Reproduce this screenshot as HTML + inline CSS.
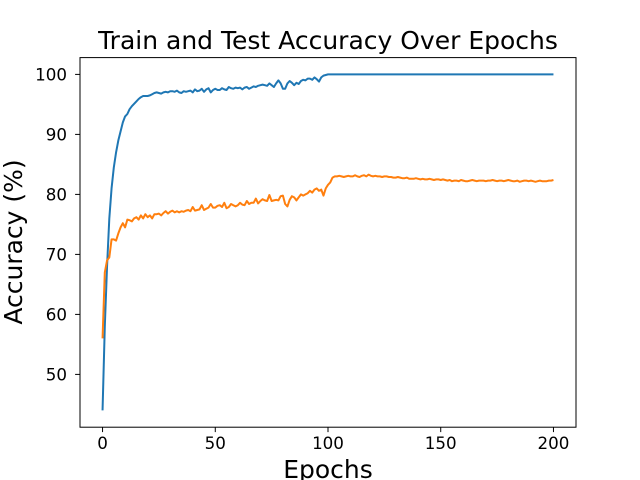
<!DOCTYPE html>
<html><head><meta charset="utf-8"><style>
body{margin:0;background:#fff}
svg{display:block;font-family:"DejaVu Sans","Liberation Sans",sans-serif}
</style></head><body>
<svg id="chart" width="640" height="480">
<rect width="640" height="480" fill="#fff"/>
<text x="328" y="49" font-size="25" text-anchor="middle">Train and Test Accuracy Over Epochs</text>
<g id="xt"></g>
<g id="yt"></g>
<g id="lines"></g>
<rect x="80" y="57.6" width="496" height="369.6" fill="none" stroke="#000" stroke-width="1"/>
<text x="328" y="478" font-size="25" text-anchor="middle">Epochs</text>
<text transform="translate(22,242) rotate(-90)" font-size="25" text-anchor="middle">Accuracy (%)</text>
</svg>
<script>
const xTicks=[0,50,100,150,200];
const yTicks=[50,60,70,80,90,100];
const trainAcc=[44,58,68,76,81,84.5,87,89,90.5,92,
93,93.4,94.2,94.7,95.1,95.5,95.9,96.2,96.4,96.4,
96.4,96.5,96.7,96.9,97.0,96.9,96.8,97.0,97.1,97.0,
97.2,97.2,97.1,97.3,97.0,96.9,97.2,97.1,97.2,97.3,
97.0,97.5,97.2,97.3,97.6,97.1,97.5,97.7,97.0,97.4,
97.6,97.4,97.4,97.7,97.5,97.4,97.9,97.7,97.6,97.8,
97.7,97.8,97.5,97.8,97.9,97.6,97.8,98.0,97.9,98.1,
98.2,98.3,98.2,98.1,98.5,98.2,97.9,98.5,99.0,98.5,
97.6,97.6,98.5,98.9,98.6,98.2,98.6,98.4,98.9,99.1,
99.0,99.3,99.3,99.1,99.5,99.2,98.8,99.5,99.8,99.9,
100,100,100,100,100,100,100,100,100,100,
100,100,100,100,100,100,100,100,100,100,
100,100,100,100,100,100,100,100,100,100,
100,100,100,100,100,100,100,100,100,100,
100,100,100,100,100,100,100,100,100,100,
100,100,100,100,100,100,100,100,100,100,
100,100,100,100,100,100,100,100,100,100,
100,100,100,100,100,100,100,100,100,100,
100,100,100,100,100,100,100,100,100,100,
100,100,100,100,100,100,100,100,100,100,
100];
const testAcc=[56,67,69,69.5,72.5,72.5,72.3,73.5,74.5,75.2,
74.5,75.8,75.7,75.5,76.0,76.2,75.8,76.5,76.0,76.7,
76.2,76.5,76.0,76.7,76.7,76.8,76.5,76.9,77.2,76.8,
77.1,77.3,77.0,77.2,77.0,77.2,77.1,77.3,77.4,77.2,
77.9,77.3,77.4,77.5,78.2,77.4,77.6,77.8,78.4,77.8,
77.8,78.1,78.2,77.9,78.6,77.7,77.9,78.4,78.2,78.0,
78.2,78.6,78.3,78.2,78.9,78.4,78.6,78.6,79.3,78.5,
78.9,79.2,79.0,78.9,79.9,78.9,79.0,79.1,79.0,79.7,
79.8,78.4,78.0,79.1,79.7,79.5,79.0,79.5,80.0,79.8,
80.0,80.2,80.6,80.3,80.8,81.0,80.6,80.8,79.8,81.0,
81.6,82.0,82.8,83.0,83.0,83.1,83.0,82.9,83.0,83.1,
83.0,83.0,83.2,83.0,82.9,83.1,83.2,83.0,83.3,83.1,
83.0,83.1,83.0,83.0,82.9,83.0,83.0,82.9,82.9,82.8,
82.8,82.9,82.8,82.7,82.7,82.8,82.6,82.6,82.6,82.7,
82.6,82.5,82.6,82.5,82.5,82.6,82.5,82.4,82.5,82.5,
82.4,82.5,82.4,82.3,82.4,82.2,82.3,82.3,82.2,82.4,
82.3,82.2,82.2,82.3,82.4,82.3,82.2,82.3,82.3,82.3,
82.2,82.3,82.3,82.4,82.3,82.2,82.3,82.3,82.2,82.3,
82.4,82.3,82.2,82.2,82.3,82.1,82.2,82.3,82.3,82.2,
82.3,82.2,82.1,82.2,82.3,82.2,82.2,82.2,82.3,82.3,
82.4];
const NS='http://www.w3.org/2000/svg';
const L=80,R=576,T=57.6,B=427.2;
const n=trainAcc.length;
const xmin=-(n-1)*0.05,xmax=(n-1)*1.05;
const all=trainAcc.concat(testAcc);
const dmin=Math.min(...all),dmax=Math.max(...all),pad=(dmax-dmin)*0.05;
const ymin=dmin-pad,ymax=dmax+pad;
const sx=v=>L+(v-xmin)/(xmax-xmin)*(R-L);
const sy=v=>B-(v-ymin)/(ymax-ymin)*(B-T);
function mk(tag,attrs,parent){const e=document.createElementNS(NS,tag);for(const k in attrs)e.setAttribute(k,attrs[k]);parent.appendChild(e);return e;}
const xt=document.getElementById('xt'),yt=document.getElementById('yt'),lg=document.getElementById('lines');
xTicks.forEach(t=>{
 const l=mk('line',{x1:sx(t),x2:sx(t),y1:B,y2:B+4.9,stroke:'#000','stroke-width':1},xt);
 
 
 const tx=mk('text',{x:sx(t),y:B+22,'font-size':16.7,'text-anchor':'middle'},xt);
 tx.textContent=t;
 
 
});
yTicks.forEach(t=>{
 const l=mk('line',{x1:L-4.9,x2:L,y1:sy(t),y2:sy(t),stroke:'#000','stroke-width':1},yt);
 
 
 const tx=mk('text',{x:L-13,y:sy(t)+6,'font-size':16.7,'text-anchor':'end'},yt);
 tx.textContent=t;
 
 
});
function line(data,color,name){
 const d=data.map((v,i)=>(i?'L':'M')+sx(i).toFixed(2)+' '+sy(v).toFixed(2)).join(' ');
 const p=mk('path',{d:d,fill:'none',stroke:color,'stroke-width':2,'stroke-linejoin':'round'},lg);
 
 
}
line(trainAcc,'#1f77b4','train-accuracy-line');
line(testAcc,'#ff7f0e','test-accuracy-line');
</script>
</body></html>
